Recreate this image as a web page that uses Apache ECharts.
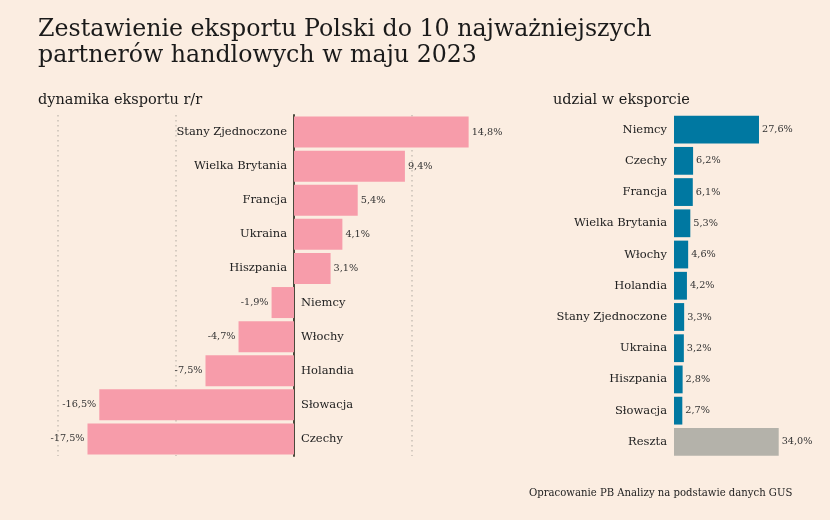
<!DOCTYPE html>
<html lang="pl">
<head>
<meta charset="utf-8">
<title>Eksport Polski - maj 2023</title>
<script src="https://cdn.jsdelivr.net/npm/echarts@6/dist/echarts.min.js"></script>
<style>
  html, body { margin: 0; padding: 0; background: #fbede1; }
  #chart { width: 830px; height: 520px; }
</style>
</head>
<body>
<div id="chart"></div>
<script>
// dynamika eksportu r/r (%)
var dynCountries = ['Stany Zjednoczone', 'Wielka Brytania', 'Francja', 'Ukraina', 'Hiszpania',
                    'Niemcy', 'Włochy', 'Holandia', 'Słowacja', 'Czechy'];
var dynValues = [14.8, 9.4, 5.4, 4.1, 3.1, -1.9, -4.7, -7.5, -16.5, -17.5];

// udzial w eksporcie (%)
var shareCountries = ['Niemcy', 'Czechy', 'Francja', 'Wielka Brytania', 'Włochy', 'Holandia',
                      'Stany Zjednoczone', 'Ukraina', 'Hiszpania', 'Słowacja', 'Reszta'];
var shareValues = [27.6, 6.2, 6.1, 5.3, 4.6, 4.2, 3.3, 3.2, 2.8, 2.7, 34.0];

var FONT = 'DejaVu Serif';
var pink = '#f79caa', teal = '#0078a1', grey = '#b4b2aa';

function pct(v) {
  return v.toFixed(1).replace('.', ',') + '%';
}

var chart = echarts.init(document.getElementById('chart'));

var option = {
  backgroundColor: '#fbede1',
  animation: false,
  title: [
    {
      text: 'Zestawienie eksportu Polski do 10 najważniejszych\npartnerów handlowych w maju 2023',
      left: 38, top: 17, padding: 0,
      textStyle: { fontFamily: FONT, fontSize: 23.7, lineHeight: 26, fontWeight: 'normal', color: '#1a1a1a' }
    },
    {
      text: 'dynamika eksportu r/r',
      left: 38, top: 91, padding: 0,
      textStyle: { fontFamily: FONT, fontSize: 14.5, lineHeight: 18, fontWeight: 'normal', color: '#1a1a1a' }
    },
    {
      text: 'udzial w eksporcie',
      left: 553, top: 91, padding: 0,
      textStyle: { fontFamily: FONT, fontSize: 14.5, lineHeight: 18, fontWeight: 'normal', color: '#1a1a1a' }
    },
    {
      text: 'Opracowanie PB Analizy na podstawie danych GUS',
      left: 529, top: 486, padding: 0,
      textStyle: { fontFamily: FONT, fontSize: 10.1, lineHeight: 14, fontWeight: 'normal', color: '#222' }
    }
  ],
  grid: [
    { left: 58, top: 115, width: 413, height: 341 },
    { left: 674, top: 114, width: 104.7, height: 343.5 }
  ],
  xAxis: [
    {
      gridIndex: 0, type: 'value', min: -20, max: 15, interval: 10,
      axisLabel: { show: false }, axisTick: { show: false }, axisLine: { show: false },
      splitLine: { show: true, showMaxLine: false,
        lineStyle: { color: '#c9c0b6', type: [1.5, 3.5], width: 1.5 } }
    },
    {
      gridIndex: 1, type: 'value', min: 0, max: 34,
      axisLabel: { show: false }, axisTick: { show: false }, axisLine: { show: false },
      splitLine: { show: false }
    }
  ],
  yAxis: [
    {
      gridIndex: 0, type: 'category', data: dynCountries, inverse: true,
      axisLine: { show: true, onZero: true, lineStyle: { color: '#4a4a3c', width: 2 } },
      axisTick: { show: false }, axisLabel: { show: false }
    },
    {
      gridIndex: 1, type: 'category', data: shareCountries, inverse: true,
      axisLine: { show: false }, axisTick: { show: false },
      axisLabel: { margin: 7, fontFamily: FONT, fontSize: 11.5, color: '#222' }
    }
  ],
  series: [
    {
      name: 'dynamika', type: 'bar', xAxisIndex: 0, yAxisIndex: 0,
      barCategoryGap: '9%',
      itemStyle: { color: pink },
      data: dynValues.map(function (v) {
        return { value: v, label: { position: v >= 0 ? 'right' : 'left' } };
      }),
      label: {
        show: true, distance: 3, fontFamily: FONT, fontSize: 9.7, color: '#333',
        formatter: function (p) { return pct(p.value); }
      },
      z: 2
    },
    {
      // nazwy krajów przy osi zero, po przeciwnej stronie słupka
      name: 'nazwy', type: 'bar', xAxisIndex: 0, yAxisIndex: 0,
      barGap: '-100%', barCategoryGap: '9%', silent: true,
      itemStyle: { color: 'transparent' },
      data: dynValues.map(function (v) {
        return { value: 0, label: { position: v >= 0 ? 'left' : 'right' } };
      }),
      label: {
        show: true, distance: 7, fontFamily: FONT, fontSize: 11.5, color: '#222',
        formatter: function (p) { return p.name; }
      },
      z: 3
    },
    {
      name: 'udzial', type: 'bar', xAxisIndex: 1, yAxisIndex: 1,
      barCategoryGap: '11%',
      data: shareValues.map(function (v, i) {
        return { value: v, itemStyle: { color: shareCountries[i] === 'Reszta' ? grey : teal } };
      }),
      label: {
        show: true, position: 'right', distance: 3, fontFamily: FONT, fontSize: 9.7, color: '#333',
        formatter: function (p) { return pct(p.value); }
      }
    }
  ]
};

chart.setOption(option);
</script>
</body>
</html>
